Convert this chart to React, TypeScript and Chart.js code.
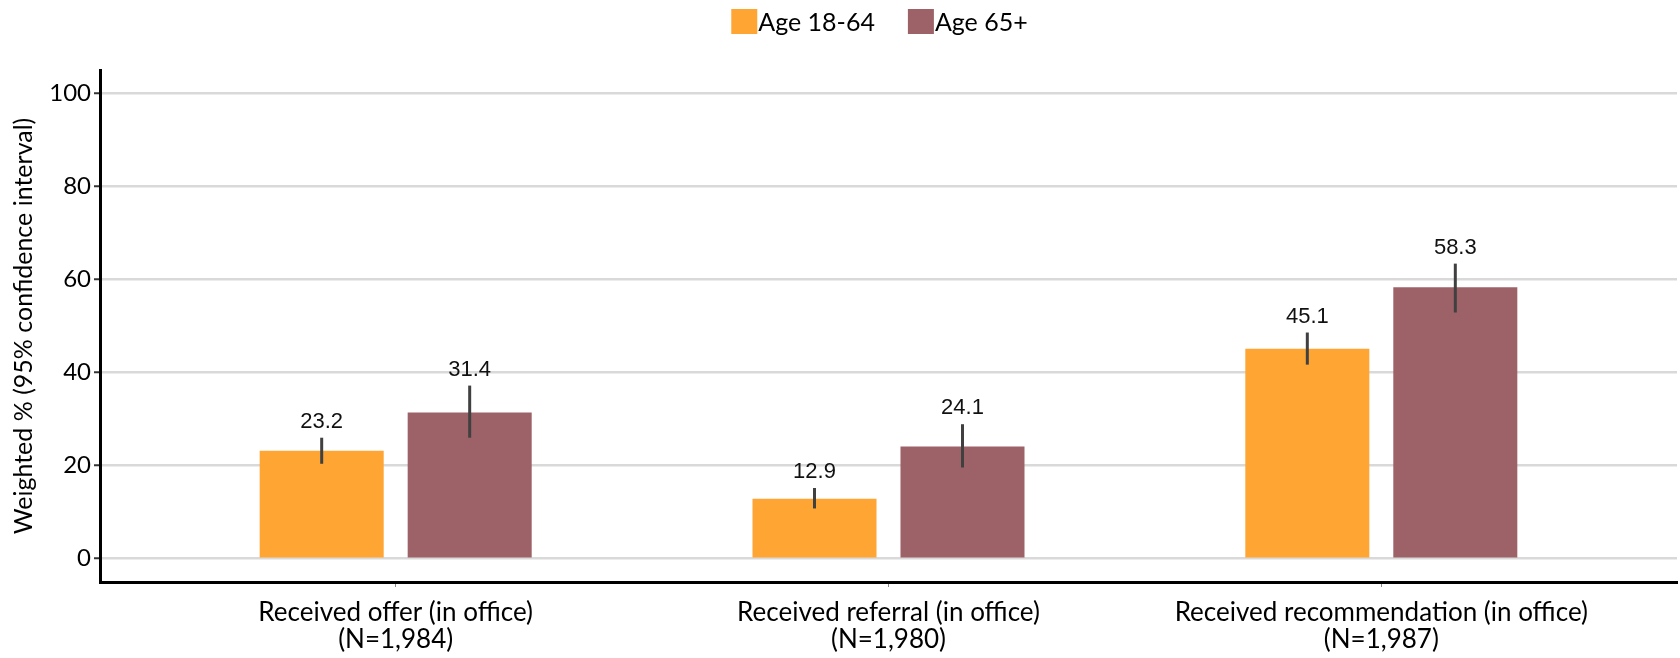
import React, { useEffect, useRef } from "react";
import { Chart, registerables } from "chart.js";

Chart.register(...registerables);

// ---- Data ----
const categoryNames = [
  "Received offer (in office)",
  "Received referral (in office)",
  "Received recommendation (in office)",
];
const sampleSizes = ["(N=1,984)", "(N=1,980)", "(N=1,987)"];

const seriesNames = ["Age 18-64", "Age 65+"];
const age1864 = [23.2, 12.9, 45.1];
const age1864Low = [20.4, 10.8, 41.7];
const age1864High = [26.0, 15.2, 48.6];
const age65 = [31.4, 24.1, 58.3];
const age65Low = [26.0, 19.6, 52.9];
const age65High = [37.2, 28.9, 63.4];

const yTicks = [0, 20, 40, 60, 80, 100];
const yTitle = "Weighted % (95% confidence interval)";

const colors = ["#FFA534", "#9C6268"];
const FONT = "Lato, 'Open Sans', sans-serif";

const errorBarPlugin = {
  id: "errorBars",
  afterDatasetsDraw(chart: any) {
    const ctx = chart.ctx;
    const yScale = chart.scales.y;
    const lows = [age1864Low, age65Low];
    const highs = [age1864High, age65High];
    const vals = [age1864, age65];
    chart.data.datasets.forEach((_: any, di: number) => {
      const meta = chart.getDatasetMeta(di);
      meta.data.forEach((bar: any, i: number) => {
        const yLo = yScale.getPixelForValue(lows[di][i]);
        const yHi = yScale.getPixelForValue(highs[di][i]);
        ctx.save();
        ctx.strokeStyle = "#404040";
        ctx.lineWidth = 3;
        ctx.beginPath();
        ctx.moveTo(bar.x, yLo);
        ctx.lineTo(bar.x, yHi);
        ctx.stroke();
        ctx.fillStyle = "#111111";
        ctx.font = "22px 'Liberation Sans', Arial, sans-serif";
        ctx.textAlign = "center";
        ctx.textBaseline = "alphabetic";
        ctx.fillText(vals[di][i].toFixed(1), bar.x, yHi - 10);
        ctx.restore();
      });
    });
  },
};

const legendPlugin = {
  id: "customLegend",
  afterDraw(chart: any) {
    const ctx = chart.ctx;
    ctx.save();
    ctx.font = `25px ${FONT}`;
    const box = 26;
    const gapText = 1;
    const itemGap = 33;
    const widths = seriesNames.map((n) => ctx.measureText(n).width);
    const total = widths.reduce((s, w) => s + box + gapText + w, 0) + itemGap * (seriesNames.length - 1);
    const center = (chart.chartArea.left + chart.chartArea.right) / 2 - 9;
    let x = center - total / 2;
    const yMid = 22;
    seriesNames.forEach((n, i) => {
      ctx.fillStyle = colors[i];
      ctx.fillRect(x, yMid - box / 2, box, box - 1);
      x += box + gapText;
      ctx.fillStyle = "#000";
      ctx.textAlign = "left";
      ctx.textBaseline = "middle";
      ctx.fillText(n, x, yMid + 1);
      x += widths[i] + itemGap;
    });
    ctx.restore();
  },
};

export default function App() {
  const ref = useRef<HTMLCanvasElement>(null);
  useEffect(() => {
    if (!ref.current) return;
    const chart = new Chart(ref.current, {
      type: "bar",
      data: {
        datasets: [
          {
            label: seriesNames[0],
            data: age1864.map((v, i) => ({ x: i, y: v })),
            backgroundColor: colors[0],
            categoryPercentage: 0.6006,
            barPercentage: 0.838,
          },
          {
            label: seriesNames[1],
            data: age65.map((v, i) => ({ x: i, y: v })),
            backgroundColor: colors[1],
            categoryPercentage: 0.6006,
            barPercentage: 0.838,
          },
        ],
      },
      options: {
        animation: false,
        responsive: true,
        maintainAspectRatio: false,
        layout: { padding: { top: 70, right: 3, left: 0, bottom: 0 } },
        plugins: {
          legend: { display: false },
          tooltip: { enabled: false },
        },
        scales: {
          x: {
            type: "linear",
            min: -0.6,
            max: 2.6,
            offset: false,
            afterBuildTicks: (axis: any) => {
              axis.ticks = categoryNames.map((_, i) => ({ value: i }));
            },
            afterFit: (axis: any) => {
              axis.height = 76;
            },
            ticks: {
              autoSkip: false,
              maxRotation: 0,
              padding: 12,
              color: "#000",
              font: { family: FONT, size: 26, lineHeight: 1.03 },
              callback: (v: any) => {
                const i = Math.round(Number(v));
                return [categoryNames[i], sampleSizes[i]];
              },
            },
            grid: {
              display: true,
              drawOnChartArea: false,
              drawTicks: true,
              tickLength: 5,
              tickColor: "#888",
              tickWidth: 1,
              offset: false,
            },
            border: { display: true, color: "#000", width: 3 },
          },
          y: {
            min: -5,
            max: 105,
            afterBuildTicks: (axis: any) => {
              axis.ticks = yTicks.map((v) => ({ value: v }));
            },
            afterFit: (axis: any) => {
              axis.width = 100;
            },
            ticks: {
              padding: 3,
              color: "#000",
              font: { family: FONT, size: 24 },
            },
            grid: {
              color: "#d9d9d9",
              lineWidth: 2.5,
              drawTicks: true,
              tickLength: 6,
              tickColor: "#333",
              tickWidth: 2,
            },
            border: { display: true, color: "#000", width: 3 },
            title: {
              display: true,
              text: yTitle,
              color: "#000",
              font: { family: FONT, size: 25 },
              padding: { top: 9, bottom: 0 },
            },
          },
        },
      },
      plugins: [errorBarPlugin, legendPlugin],
    });
    return () => chart.destroy();
  }, []);
  return (
    <div style={{ position: "absolute", left: 0, top: 0, width: 1680, height: 658, background: "#fff" }}>
      <canvas ref={ref} />
    </div>
  );
}
